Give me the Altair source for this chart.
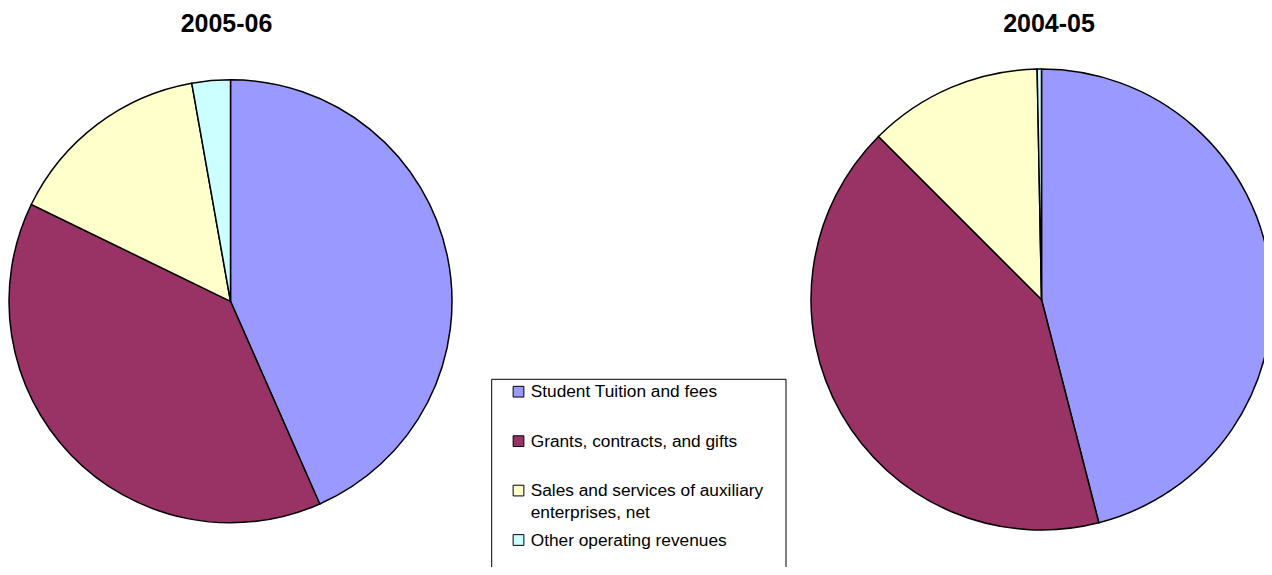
import altair as alt
import pandas as pd

categories = [
    "Student Tuition and fees",
    "Grants, contracts, and gifts",
    "Sales and services of auxiliary enterprises, net",
    "Other operating revenues",
]
legend_labels = [
    "Student Tuition and fees",
    "Grants, contracts, and gifts",
    "Sales and services of auxiliary\nenterprises, net",
    "Other operating revenues",
]
share_2005_06 = [43.4, 38.8, 15.0, 2.8]
share_2004_05 = [46.0, 41.5, 12.2, 0.3]
colors = ["#9999FF", "#993366", "#FFFFCC", "#CCFFFF"]
years = ["2005-06", "2004-05"]

rows = []
for i, c in enumerate(categories):
    rows.append({"year": years[0], "category": c, "idx": i, "share": share_2005_06[i]})
    rows.append({"year": years[1], "category": c, "idx": i, "share": share_2004_05[i]})
df = pd.DataFrame(rows)

leg = pd.DataFrame({"category": categories, "label": legend_labels, "idx": range(len(categories))})
titles = pd.DataFrame({"year": years})

FONT = "Liberation Sans"
color_scale = alt.Scale(domain=categories, range=colors)


def pie(year, cx, cy, r):
    return (
        alt.Chart(df)
        .transform_filter(alt.datum.year == year)
        .mark_arc(radius=r, stroke="black", strokeWidth=1.5)
        .encode(
            theta=alt.Theta("share:Q", stack=True, scale=alt.Scale(domain=[0, 100])),
            color=alt.Color("category:N", scale=color_scale, legend=None),
            order=alt.Order("idx:Q"),
            x=alt.value(cx),
            y=alt.value(cy),
        )
    )


left = pie(years[0], 222.5, 293.3, 221.5)
right = pie(years[1], 1033.5, 291.5, 230.5)

title_left = (
    alt.Chart(titles)
    .transform_filter(alt.datum.year == years[0])
    .mark_text(font=FONT, fontSize=25, fontWeight="bold", align="center", baseline="alphabetic")
    .encode(text="year:N", x=alt.value(218.5), y=alt.value(24))
)
title_right = (
    alt.Chart(titles)
    .transform_filter(alt.datum.year == years[1])
    .mark_text(font=FONT, fontSize=25, fontWeight="bold", align="center", baseline="alphabetic")
    .encode(text="year:N", x=alt.value(1041), y=alt.value(23.5))
)

legend_box = (
    alt.Chart(titles)
    .transform_filter(alt.datum.year == years[0])
    .mark_rect(fill="white", stroke="black", strokeWidth=1)
    .encode(x=alt.value(483.7), x2=alt.value(778), y=alt.value(371.3), y2=alt.value(620))
)

leg_y = alt.Y("category:N", scale=alt.Scale(domain=categories, range=[383.7, 532], padding=0), axis=None)

legend_swatch = (
    alt.Chart(leg)
    .mark_square(size=115, stroke="black", strokeWidth=1, opacity=1)
    .encode(
        y=leg_y,
        x=alt.value(510.5),
        color=alt.Color("category:N", scale=color_scale, legend=None),
    )
)
legend_text = (
    alt.Chart(leg)
    .mark_text(font=FONT, fontSize=17.3, align="left", baseline="alphabetic", dy=5.5,
               lineBreak="\n", lineHeight=21.7, color="black")
    .encode(y=leg_y, x=alt.value(522.7), text="label:N")
)

chart = (
    alt.layer(left, right, title_left, title_right, legend_box, legend_swatch, legend_text)
    .resolve_scale(theta="independent")
    .properties(width=1256, height=559, padding=0, autosize=alt.AutoSizeParams(type="none"))
    .configure_view(stroke=None)
)

chart.save("out.html", embed_options={"renderer": "svg", "actions": False})
